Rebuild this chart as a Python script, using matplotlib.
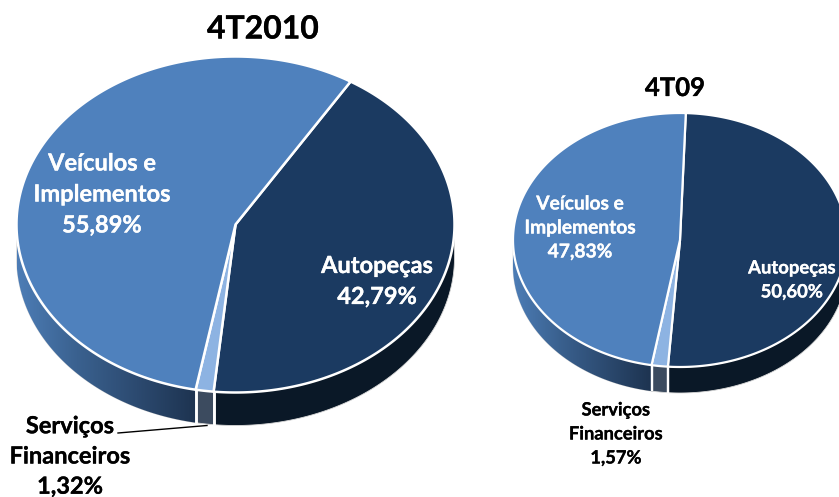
#!/usr/bin/env python3
# -*- coding: utf-8 -*-
"""Two tilted 3D looking pies, drawn in pixel coordinates."""

import numpy as np
import matplotlib
matplotlib.use('Agg')
import matplotlib.pyplot as plt
import matplotlib.patheffects as pe
from matplotlib.colors import LinearSegmentedColormap
from matplotlib.patches import Polygon

plt.rcParams['font.family'] = ['Lato', 'DejaVu Sans']

SEGMENTS = ['Autopeças', 'Serviços Financeiros', 'Veículos e Implementos']
VALUES_2010 = [42.79, 1.32, 55.89]
VALUES_09 = [50.60, 1.57, 47.83]

TOP_COLORS = ['#1b3a61', '#8db3e2', '#4f81bd']
SIDE_COLORS = ['#0a1827', '#3c4b5f', None]
SIDE_CMAP = LinearSegmentedColormap.from_list('side', ['#4d7db6', '#3a618f', '#2c4a70', '#1d3350'])


def point(cx, cy, rx, ry, deg):
    """Angle is clockwise from the top of the ellipse."""
    rad = np.radians(deg)
    return cx + rx * np.sin(rad), cy - ry * np.cos(rad)


def arc(cx, cy, rx, ry, a, b, step=0.5):
    angles = np.arange(a, b, step).tolist() + [b]
    return [point(cx, cy, rx, ry, t) for t in angles]


def draw_pie(ax, values, cx, cy, rx, ry, depth, start, lw):
    edges = start + np.concatenate([[0], np.cumsum(values)]) * 3.6

    for i in range(len(values)):
        a, b = edges[i], edges[i + 1]
        # side wall, only the part in front (90 to 270 degrees)
        lo, hi = max(a, 90), min(b, 270)
        if lo < hi:
            front = arc(cx, cy, rx, ry, lo, hi)
            back = [(x, y + depth) for x, y in reversed(front)]
            wall = Polygon(front + back, closed=True, facecolor=SIDE_COLORS[i] or 'none',
                           edgecolor='#d9d9d9', linewidth=0.6, zorder=2)
            ax.add_patch(wall)
            if SIDE_COLORS[i] is None:
                grad = np.linspace(0, 1, 256).reshape(1, -1)
                im = ax.imshow(grad, cmap=SIDE_CMAP, aspect='auto', zorder=2.1,
                               extent=[cx - rx, point(cx, cy, rx, ry, lo)[0], cy + ry + depth, cy],
                               interpolation='bilinear')
                im.set_clip_path(wall)
            # white split on the wall
            for t in (lo, hi):
                if 92 < t < 268:
                    x, y = point(cx, cy, rx, ry, t)
                    ax.plot([x, x], [y, y + depth], color='white', lw=lw, zorder=3,
                            solid_capstyle='butt')

    for i in range(len(values)):
        a, b = edges[i], edges[i + 1]
        pts = [(cx, cy)] + arc(cx, cy, rx, ry, a, b)
        ax.add_patch(Polygon(pts, closed=True, facecolor=TOP_COLORS[i], edgecolor='white',
                             linewidth=lw, joinstyle='round', zorder=4))


def label(ax, x, y, text, size, color, spacing=1.2):
    t = ax.text(x, y, text, fontsize=size, color=color, ha='center', va='center',
                fontweight='bold', linespacing=spacing, zorder=6)
    t.set_path_effects([pe.withStroke(linewidth=0.2, foreground=color)])


fig = plt.figure(figsize=(8.39, 4.97), dpi=100, facecolor='white')
ax = fig.add_axes([0, 0, 1, 1])

draw_pie(ax, VALUES_2010, 235.5, 224.5, 219, 168, 33, 31.7, 1.8)
draw_pie(ax, VALUES_09, 680, 240, 167, 127, 26, 2, 1.6)

ax.set_xlim(0, 839)
ax.set_ylim(497, 0)
ax.axis('off')

# leader line of the small slice
ax.plot([118, 207], [433, 425.5], color='black', lw=1.0, zorder=5)

label(ax, 263, 29, '4T2010', 23, 'black')
label(ax, 675, 88, '4T09', 18.5, 'black')

label(ax, 102, 194, 'Veículos e\nImplementos\n55,89%', 17, 'white', 1.42)
label(ax, 377, 281, 'Autopeças\n42,79%', 17, 'white', 1.42)
label(ax, 580, 228, 'Veículos e\nImplementos\n47,83%', 13.8, 'white', 1.5)
label(ax, 792, 280, 'Autopeças\n50,60%', 13.3, 'white', 1.5)

label(ax, 70, 456, 'Serviços\nFinanceiros\n1,32%', 17, 'black', 1.38)
label(ax, 616, 434, 'Serviços\nFinanceiros\n1,57%', 13.2, 'black', 1.5)

fig.savefig('out.png', dpi=100)
